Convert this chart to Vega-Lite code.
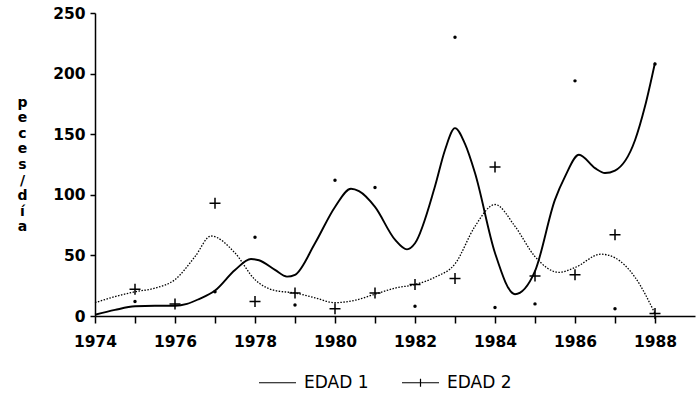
{
  "$schema": "https://vega.github.io/schema/vega-lite/v6.json",
  "width": 600,
  "height": 303,
  "autosize": "none",
  "padding": {"left": 95, "top": 13, "right": 1, "bottom": 92},
  "background": "white",
  "config": {
    "view": {"stroke": null},
    "axis": {"domainColor": "black", "tickColor": "black", "labelColor": "black", "titleColor": "black", "grid": false, "labelFont": "DejaVu Sans", "labelFontSize": 15.5, "labelFontWeight": "bold", "domainWidth": 1.5, "tickWidth": 1.5}
  },
  "data": {
    "values": [
      {"year": 1974, "value": 1, "serie": "EDAD 1", "kind": "curva"},
      {"year": 1974.5, "value": 5, "serie": "EDAD 1", "kind": "curva"},
      {"year": 1975, "value": 8, "serie": "EDAD 1", "kind": "curva"},
      {"year": 1975.5, "value": 8.5, "serie": "EDAD 1", "kind": "curva"},
      {"year": 1976, "value": 8.5, "serie": "EDAD 1", "kind": "curva"},
      {"year": 1976.3, "value": 10, "serie": "EDAD 1", "kind": "curva"},
      {"year": 1976.6, "value": 14, "serie": "EDAD 1", "kind": "curva"},
      {"year": 1977, "value": 21, "serie": "EDAD 1", "kind": "curva"},
      {"year": 1977.5, "value": 38, "serie": "EDAD 1", "kind": "curva"},
      {"year": 1977.9, "value": 47, "serie": "EDAD 1", "kind": "curva"},
      {"year": 1978.1, "value": 46, "serie": "EDAD 1", "kind": "curva"},
      {"year": 1978.5, "value": 38, "serie": "EDAD 1", "kind": "curva"},
      {"year": 1978.8, "value": 32.5, "serie": "EDAD 1", "kind": "curva"},
      {"year": 1979, "value": 34, "serie": "EDAD 1", "kind": "curva"},
      {"year": 1979.5, "value": 60, "serie": "EDAD 1", "kind": "curva"},
      {"year": 1980, "value": 90, "serie": "EDAD 1", "kind": "curva"},
      {"year": 1980.4, "value": 105, "serie": "EDAD 1", "kind": "curva"},
      {"year": 1980.6, "value": 103, "serie": "EDAD 1", "kind": "curva"},
      {"year": 1981, "value": 90, "serie": "EDAD 1", "kind": "curva"},
      {"year": 1981.5, "value": 63, "serie": "EDAD 1", "kind": "curva"},
      {"year": 1981.8, "value": 55, "serie": "EDAD 1", "kind": "curva"},
      {"year": 1982, "value": 60, "serie": "EDAD 1", "kind": "curva"},
      {"year": 1982.5, "value": 107, "serie": "EDAD 1", "kind": "curva"},
      {"year": 1982.75, "value": 137, "serie": "EDAD 1", "kind": "curva"},
      {"year": 1983, "value": 155, "serie": "EDAD 1", "kind": "curva"},
      {"year": 1983.25, "value": 142, "serie": "EDAD 1", "kind": "curva"},
      {"year": 1983.5, "value": 118, "serie": "EDAD 1", "kind": "curva"},
      {"year": 1984, "value": 52, "serie": "EDAD 1", "kind": "curva"},
      {"year": 1984.5, "value": 18, "serie": "EDAD 1", "kind": "curva"},
      {"year": 1985, "value": 37, "serie": "EDAD 1", "kind": "curva"},
      {"year": 1985.5, "value": 96, "serie": "EDAD 1", "kind": "curva"},
      {"year": 1985.75, "value": 115, "serie": "EDAD 1", "kind": "curva"},
      {"year": 1986.1, "value": 133, "serie": "EDAD 1", "kind": "curva"},
      {"year": 1986.5, "value": 122, "serie": "EDAD 1", "kind": "curva"},
      {"year": 1986.75, "value": 118, "serie": "EDAD 1", "kind": "curva"},
      {"year": 1987, "value": 120, "serie": "EDAD 1", "kind": "curva"},
      {"year": 1987.5, "value": 145, "serie": "EDAD 1", "kind": "curva"},
      {"year": 1987.75, "value": 173, "serie": "EDAD 1", "kind": "curva"},
      {"year": 1988, "value": 209, "serie": "EDAD 1", "kind": "curva"},
      {"year": 1974, "value": 11, "serie": "EDAD 2", "kind": "curva"},
      {"year": 1974.5, "value": 16, "serie": "EDAD 2", "kind": "curva"},
      {"year": 1975, "value": 20, "serie": "EDAD 2", "kind": "curva"},
      {"year": 1975.5, "value": 23, "serie": "EDAD 2", "kind": "curva"},
      {"year": 1976, "value": 30, "serie": "EDAD 2", "kind": "curva"},
      {"year": 1976.5, "value": 49, "serie": "EDAD 2", "kind": "curva"},
      {"year": 1976.9, "value": 66, "serie": "EDAD 2", "kind": "curva"},
      {"year": 1977.5, "value": 52, "serie": "EDAD 2", "kind": "curva"},
      {"year": 1978, "value": 30, "serie": "EDAD 2", "kind": "curva"},
      {"year": 1978.5, "value": 21, "serie": "EDAD 2", "kind": "curva"},
      {"year": 1979, "value": 19, "serie": "EDAD 2", "kind": "curva"},
      {"year": 1979.5, "value": 15, "serie": "EDAD 2", "kind": "curva"},
      {"year": 1980, "value": 11, "serie": "EDAD 2", "kind": "curva"},
      {"year": 1980.5, "value": 13, "serie": "EDAD 2", "kind": "curva"},
      {"year": 1981, "value": 18, "serie": "EDAD 2", "kind": "curva"},
      {"year": 1981.5, "value": 23, "serie": "EDAD 2", "kind": "curva"},
      {"year": 1982, "value": 26, "serie": "EDAD 2", "kind": "curva"},
      {"year": 1982.5, "value": 32, "serie": "EDAD 2", "kind": "curva"},
      {"year": 1983, "value": 43, "serie": "EDAD 2", "kind": "curva"},
      {"year": 1983.5, "value": 74, "serie": "EDAD 2", "kind": "curva"},
      {"year": 1984, "value": 92, "serie": "EDAD 2", "kind": "curva"},
      {"year": 1984.5, "value": 74, "serie": "EDAD 2", "kind": "curva"},
      {"year": 1985, "value": 49, "serie": "EDAD 2", "kind": "curva"},
      {"year": 1985.6, "value": 36, "serie": "EDAD 2", "kind": "curva"},
      {"year": 1986, "value": 40, "serie": "EDAD 2", "kind": "curva"},
      {"year": 1986.65, "value": 51, "serie": "EDAD 2", "kind": "curva"},
      {"year": 1987, "value": 48, "serie": "EDAD 2", "kind": "curva"},
      {"year": 1987.5, "value": 32, "serie": "EDAD 2", "kind": "curva"},
      {"year": 1988, "value": 2, "serie": "EDAD 2", "kind": "curva"},
      {"year": 1975, "value": 12, "serie": "EDAD 1", "kind": "obs"},
      {"year": 1977, "value": 20, "serie": "EDAD 1", "kind": "obs"},
      {"year": 1978, "value": 65, "serie": "EDAD 1", "kind": "obs"},
      {"year": 1979, "value": 9, "serie": "EDAD 1", "kind": "obs"},
      {"year": 1980, "value": 112, "serie": "EDAD 1", "kind": "obs"},
      {"year": 1981, "value": 106, "serie": "EDAD 1", "kind": "obs"},
      {"year": 1982, "value": 8, "serie": "EDAD 1", "kind": "obs"},
      {"year": 1983, "value": 230, "serie": "EDAD 1", "kind": "obs"},
      {"year": 1984, "value": 7, "serie": "EDAD 1", "kind": "obs"},
      {"year": 1985, "value": 10, "serie": "EDAD 1", "kind": "obs"},
      {"year": 1986, "value": 194, "serie": "EDAD 1", "kind": "obs"},
      {"year": 1987, "value": 6, "serie": "EDAD 1", "kind": "obs"},
      {"year": 1988, "value": 208, "serie": "EDAD 1", "kind": "obs"},
      {"year": 1975, "value": 22, "serie": "EDAD 2", "kind": "obs"},
      {"year": 1976, "value": 10, "serie": "EDAD 2", "kind": "obs"},
      {"year": 1977, "value": 93, "serie": "EDAD 2", "kind": "obs"},
      {"year": 1978, "value": 12, "serie": "EDAD 2", "kind": "obs"},
      {"year": 1979, "value": 19, "serie": "EDAD 2", "kind": "obs"},
      {"year": 1980, "value": 6, "serie": "EDAD 2", "kind": "obs"},
      {"year": 1981, "value": 19, "serie": "EDAD 2", "kind": "obs"},
      {"year": 1982, "value": 26, "serie": "EDAD 2", "kind": "obs"},
      {"year": 1983, "value": 31, "serie": "EDAD 2", "kind": "obs"},
      {"year": 1984, "value": 123, "serie": "EDAD 2", "kind": "obs"},
      {"year": 1985, "value": 33, "serie": "EDAD 2", "kind": "obs"},
      {"year": 1986, "value": 34, "serie": "EDAD 2", "kind": "obs"},
      {"year": 1987, "value": 67, "serie": "EDAD 2", "kind": "obs"},
      {"year": 1988, "value": 2, "serie": "EDAD 2", "kind": "obs"}
    ]
  },
  "encoding": {
    "x": {
      "field": "year", "type": "quantitative",
      "scale": {"domain": [1974, 1989], "nice": false, "zero": false},
      "axis": {
        "title": null,
        "values": [1974, 1975, 1976, 1977, 1978, 1979, 1980, 1981, 1982, 1983, 1984, 1985, 1986, 1987, 1988],
        "format": "d",
        "labelExpr": "datum.value % 2 === 0 ? datum.label : ''",
        "tickSize": 7,
        "labelPadding": 11,
        "labelFlush": false,
        "labelOverlap": false,
        "encode": {"ticks": {"update": {"y": {"value": -7}, "y2": {"signal": "datum.value % 2 === 0 ? 7 : 0"}}}}
      }
    },
    "y": {
      "field": "value", "type": "quantitative",
      "scale": {"domain": [0, 250], "nice": false},
      "axis": {
        "values": [0, 50, 100, 150, 200, 250],
        "tickSize": 5,
        "labelPadding": 5,
        "title": ["p", "e", "c", "e", "s", "/", "d", "í", "a"],
        "titleAngle": 0,
        "titleX": -73,
        "titleY": 89,
        "titleAlign": "center",
        "titleBaseline": "middle",
        "titleLineHeight": 15.6,
        "titleFont": "DejaVu Sans",
        "titleFontSize": 14,
        "titleFontWeight": "bold"
      }
    },
    "color": {
      "field": "serie", "type": "nominal",
      "scale": {"domain": ["EDAD 1", "EDAD 2"], "range": ["black", "black"]},
      "legend": {
        "orient": "none",
        "legendX": 163,
        "legendY": 350,
        "direction": "horizontal",
        "title": null,
        "symbolSize": 1369,
        "symbolStrokeWidth": 1.2,
        "symbolStrokeColor": "black",
        "symbolFillColor": "transparent",
        "labelFont": "DejaVu Sans",
        "labelFontSize": 17,
        "labelColor": "black",
        "labelOffset": 7,
        "columnPadding": 30,
        "encode": {"symbols": {"update": {
          "shape": {"signal": "datum.value === 'EDAD 1' ? 'M-1,0L1,0' : 'M-1,0L1,0M0,-0.22L0,0.22'"},
          "fill": {"value": "transparent"},
          "stroke": {"value": "black"},
          "strokeWidth": {"value": 1.2}
        }}}
      }
    }
  },
  "layer": [
    {
      "transform": [{"filter": "datum.kind === 'curva' && datum.serie === 'EDAD 1'"}],
      "mark": {"type": "line", "interpolate": "monotone", "strokeWidth": 1.9}
    },
    {
      "transform": [{"filter": "datum.kind === 'curva' && datum.serie === 'EDAD 2'"}],
      "mark": {"type": "line", "interpolate": "monotone", "strokeWidth": 1.3, "strokeDash": [1.5, 1.5]}
    },
    {
      "transform": [{"filter": "datum.kind === 'obs' && datum.serie === 'EDAD 1'"}],
      "mark": {"type": "point", "filled": true, "shape": "circle", "size": 12, "opacity": 1}
    },
    {
      "transform": [{"filter": "datum.kind === 'obs' && datum.serie === 'EDAD 2'"}],
      "mark": {"type": "point", "filled": false, "shape": "M-1,0L1,0M0,-1L0,1", "size": 121, "strokeWidth": 1.5, "opacity": 1}
    }
  ]
}
